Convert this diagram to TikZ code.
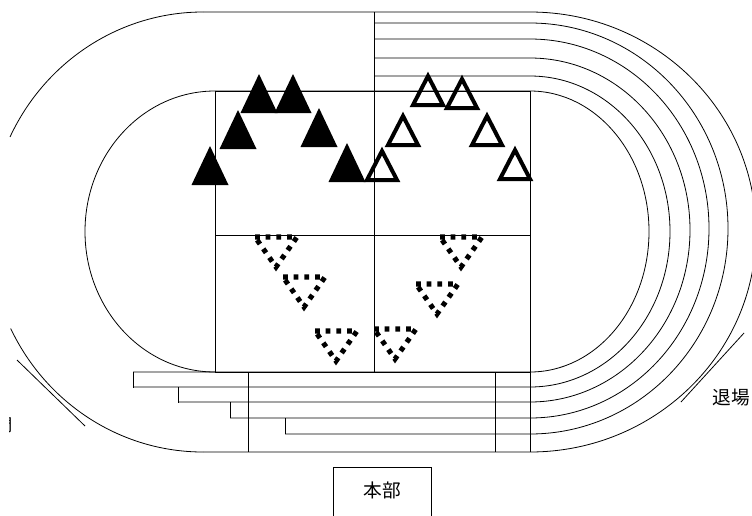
\documentclass[tikz,border=0pt]{standalone}
\usepackage{fontspec}
\newfontfamily\jpfont{Noto Sans CJK JP}
\usepackage{tikz}
\usetikzlibrary{positioning}
\tikzset{every node/.style={font=\jpfont}}

\begin{document}
\begin{tikzpicture}[
            x=0.75pt, y=-0.75pt,
            track/.style={draw=black, line width=0.6pt},
            full tri/.style={fill=black},
            open tri/.style={draw=black, line width=3pt, line join=miter},
            dot tri/.style={draw=black, line width=3.8pt, dash pattern=on 3.6pt off 4.4pt},
            place/.style={inner sep=0pt, font=\jpfont\fontsize{14}{14}\selectfont},
            ]
        \useasboundingbox (0,0) rectangle (752,515);
        \clip (0,0) rectangle (752,515);
        % field
        \draw[track] (215,91) rectangle (530,372);
        \draw[track] (215,235) -- (530,235);
        \draw[track] (374,12) -- (374,372);
        \draw[track] (215,91) arc[start angle=270, end angle=90, x radius=130, y radius=140.5];
        % lanes
        \foreach \t/\b/\a/\s/\e in {91/372/119/215/133, 76/387/140/374/133, 58/402/160/374/178,
                                    39/418/179/374/230, 23/434/198/374/285, 12/452/226/203/203}
            \draw[track] (\s,\t) -- (530,\t)
                arc[start angle=-90, end angle=90, x radius=\a, y radius={(\b-\t)/2}] -- (\e,\b);
        \foreach \x/\y in {133/372, 178/387, 230/402, 285/418}
            \draw[track] (\x,\y) -- (\x,\y+16);
        \foreach \x in {248, 495, 530}
            \draw[track] (\x,372) -- (\x,452);
        \draw[track] (203,12) arc[start angle=270, end angle=205.6, x radius=214, y radius=220];
        \draw[track] (203,452) arc[start angle=90, end angle=154, x radius=214, y radius=220];
        \draw[track] (17,360) -- (85,426);
        \draw[track] (681,402) -- (744,333);
        % players
        \foreach \x/\y in {210/185, 238/149, 259/113, 293/113, 319/147, 347/182}
            \path[full tri] (\x-18.5,\y) -- (\x,\y-39) -- (\x+18.5,\y) -- cycle;
        \foreach \x/\y in {382/182, 403/147, 428/107, 462/110, 487/147, 515/181}
            \draw[open tri] (\x-15,\y-2) -- (\x,\y-31) -- (\x+15,\y-2) -- cycle;
        \foreach \x/\y in {276/235, 304/275, 336/329, 395/327, 437/282, 461/235}
            \draw[dot tri] (\x-21,\y+2) -- (\x+21,\y+2) -- (\x,\y+32) -- cycle;
        % labels
        \node[track, anchor=north, minimum width=73.5pt, minimum height=45pt] (honbu) at (382,467) {};
        \node[place, below=11pt of honbu.north] (honbu text) {本部};
        \node[place, anchor=west] (taijo) at (712.5,398) {退場};
        \begin{scope}
            \clip (9,410) rectangle (16,440);
            \node[place, anchor=east, font=\jpfont\fontsize{13}{13}\selectfont] (nyujo) at (13.5,425) {入場門};
        \end{scope}
\end{tikzpicture}
\end{document}
